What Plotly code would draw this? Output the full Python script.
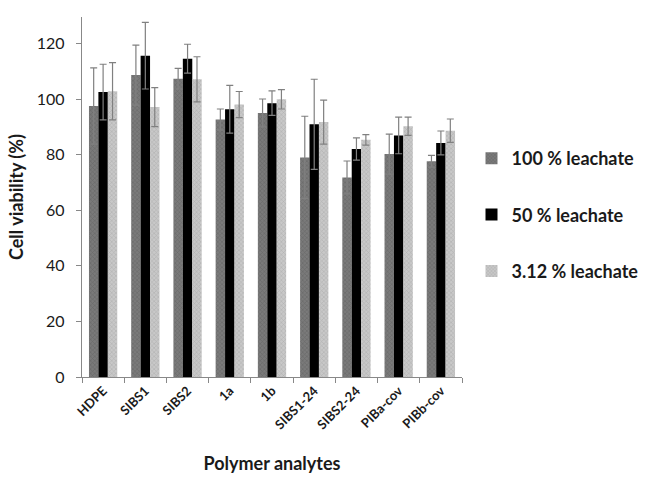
import plotly.graph_objects as go

# Cell viability after exposure to polymer leachates (mean ± SD)
analytes = ["HDPE", "SIBS1", "SIBS2", "1a", "1b", "SIBS1-24", "SIBS2-24", "PIBa-cov", "PIBb-cov"]

viab_100 = [97.5, 108.6, 107.3, 92.6, 95.0, 79.0, 71.8, 80.2, 77.6]
sd_100 = [13.7, 10.8, 3.7, 3.8, 5.0, 14.8, 5.9, 7.2, 2.1]

viab_50 = [102.5, 115.6, 114.5, 96.3, 98.5, 90.9, 82.0, 86.9, 84.2]
sd_50 = [10.0, 12.0, 5.2, 8.6, 4.4, 16.2, 4.0, 6.6, 4.3]

viab_3 = [102.8, 97.1, 107.1, 98.0, 99.9, 91.7, 85.3, 90.2, 88.6]
sd_3 = [10.3, 7.0, 8.1, 4.7, 3.5, 7.9, 1.9, 3.3, 4.2]

series = [
    ("100 % leachate", viab_100, sd_100, "#7a7a7a", "#555555"),
    ("50 % leachate", viab_50, sd_50, "#000000", "#000000"),
    ("3.12 % leachate", viab_3, sd_3, "#c8c8c8", "#999999"),
]

FONT = "Lato, Open Sans, sans-serif"

fig = go.Figure()
for i, (name, vals, sd, bg, fg) in enumerate(series):
    fig.add_trace(go.Bar(
        x=analytes, y=vals, name=name, legendgroup=f"g{i}",
        marker=dict(
            color=bg,
            line=dict(width=0),
            pattern=dict(shape="x" if fg != bg else "", size=3, solidity=0.35,
                         fgcolor=fg, bgcolor=bg, fillmode="overlay"),
        ),
        error_y=dict(type="data", array=sd, visible=True,
                     color="#808080", thickness=1.2, width=3.5),
    ))

fig.update_layout(
    width=655, height=479,
    margin=dict(l=82, r=186, t=17, b=102),
    paper_bgcolor="white", plot_bgcolor="white",
    barmode="group", bargap=0.33, bargroupgap=0,
    font=dict(family=FONT, color="#1a1a1a"),
    legend=dict(
        x=1.025, y=0.45, xanchor="left", yanchor="middle",
        font=dict(size=18, family=FONT, weight="bold"),
        tracegroupgap=30, itemwidth=30,
    ),
    xaxis=dict(
        automargin=False,
        showline=True, linecolor="#888888", linewidth=1.3,
        ticks="outside", tickson="boundaries", ticklen=5, tickcolor="#888888",
        tickangle=-45,
        tickfont=dict(size=13, weight="bold"),
        title=dict(text="Polymer analytes", font=dict(size=18, weight="bold"), standoff=26),
    ),
    yaxis=dict(
        automargin=False,
        range=[0, 129.5], tickvals=[0, 20, 40, 60, 80, 100, 120],
        showline=True, linecolor="#888888", linewidth=1.3,
        ticks="outside", ticklen=5, tickcolor="#888888",
        ticklabelstandoff=8,
        showgrid=False, zeroline=False,
        tickfont=dict(size=16),
        title=dict(text="Cell viability (%)", font=dict(size=18, weight="bold"), standoff=8),
    ),
)

fig.write_html("out.html")
